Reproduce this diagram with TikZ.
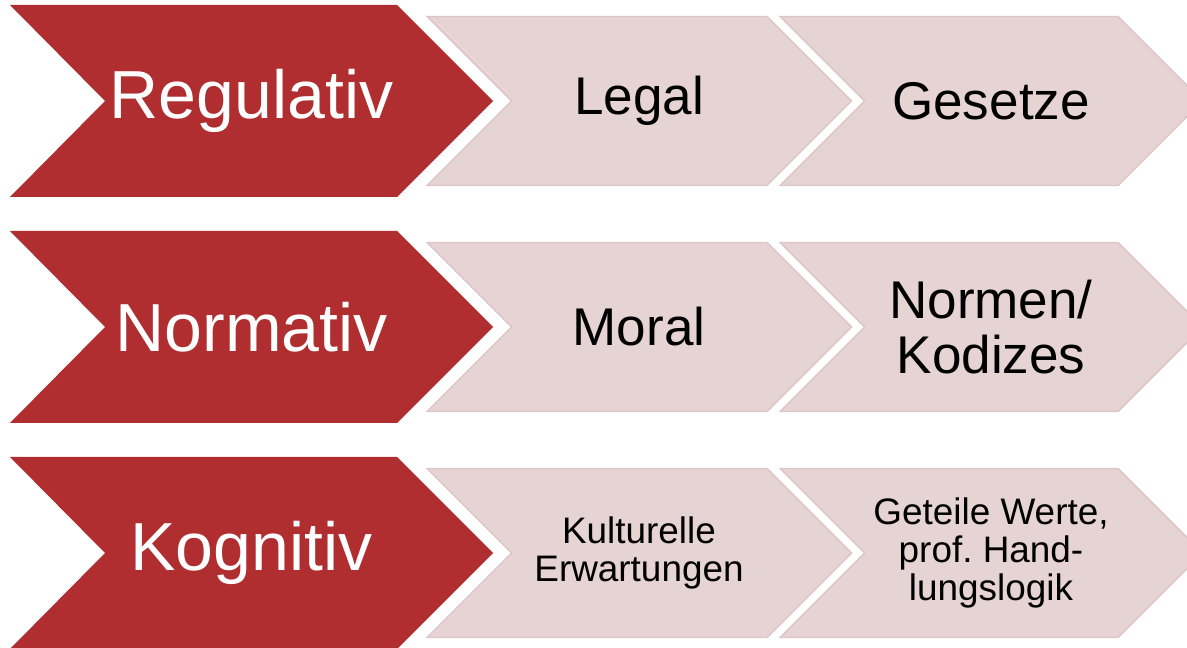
\documentclass[tikz,border=0pt]{standalone}
\usepackage{fontspec}
\setmainfont{Liberation Sans}
\definecolor{chevred}{RGB}{176,46,47}
\definecolor{chevpink}{RGB}{230,211,212}
\definecolor{chevline}{RGB}{221,196,198}
\begin{document}
\begin{tikzpicture}[
    x=0.02cm,y=-0.02cm,
    redchev/.style={
        fill=chevred,
        draw=none
    },
    pinkchev/.style={
        fill=chevpink,
        draw=chevline,
        line width=0.8pt,
        line join=miter
    },
    bigtext/.style={
        text=white,
        font=\fontsize{38.7}{46}\selectfont,
        inner sep=0pt
    },
    midtext/.style={
        text=black,
        align=center,
        font=\fontsize{30.2}{31.3}\selectfont,
        inner sep=0pt
    },
    smalltext/.style={
        text=black,
        align=center,
        font=\fontsize{21}{21.6}\selectfont,
        inner sep=0pt
    }
    ]

\useasboundingbox (0,0) rectangle (1187,648);
\clip (0,0) rectangle (1187,648);

% chevrons of the three rows
\foreach \c in {101,327,553}{
    \draw[redchev] (10,\c-96) -- (397,\c-96) -- (493,\c) -- (397,\c+96)
        -- (10,\c+96) -- (105,\c) -- cycle;
    \draw[pinkchev] (427,\c-84.5) -- (767,\c-84.5) -- (851.5,\c) -- (767,\c+84.5)
        -- (427,\c+84.5) -- (511.5,\c) -- cycle;
    \draw[pinkchev] (780,\c-84.5) -- (1118,\c-84.5) -- (1202.5,\c) -- (1118,\c+84.5)
        -- (780,\c+84.5) -- (864.5,\c) -- cycle;
}

\node[bigtext] (reg) at (251.5,101) {Regulativ};
\node[midtext] (legal) at (639,101) {Legal};
\node[midtext] (gesetze) at (991,101) {Gesetze};

\node[bigtext] (norm) at (251.5,327) {Normativ};
\node[midtext] (moral) at (639,327) {Moral};
\node[midtext] (normen) at (991,327) {Normen/\\Kodizes};

\node[bigtext] (kog) at (251.5,553) {Kognitiv};
\node[smalltext] (kult) at (639,553) {Kulturelle\\Erwartungen};
\node[smalltext] (werte) at (991,553) {Geteile Werte,\\prof.\ Hand-\\lungslogik};

\end{tikzpicture}
\end{document}
